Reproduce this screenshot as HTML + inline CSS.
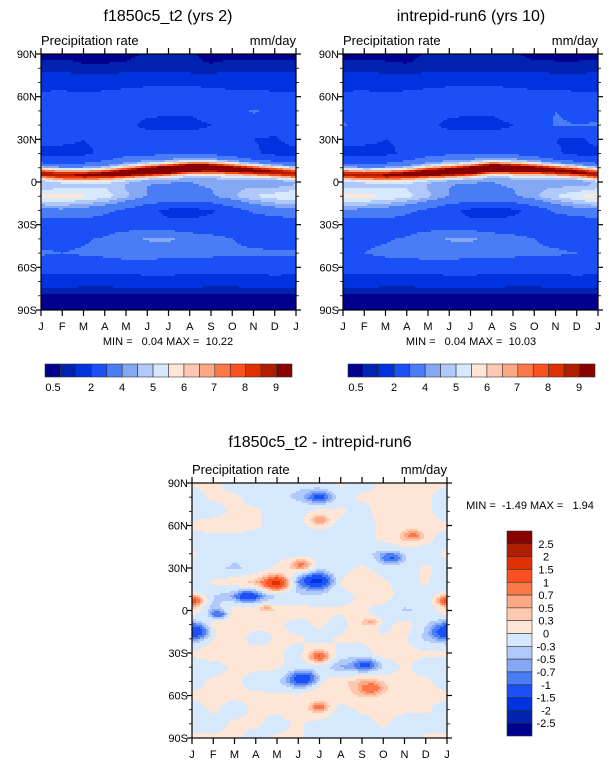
<!DOCTYPE html>
<html><head><meta charset="utf-8">
<style>
body{margin:0;background:#fff;}
svg{display:block;font-family:"Liberation Sans",Arial,sans-serif;}
text{white-space:pre;}
</style></head>
<body>
<svg id="fig" width="611" height="768" viewBox="0 0 611 768" xmlns="http://www.w3.org/2000/svg"></svg>
<script>
// ---------- data ----------
const months = ["J","F","M","A","M","J","J","A","S","O","N","D","J"];
const latTicks = ["90N","60N","30N","0","30S","60S","90S"];
const gridLats = [90,80,70,60,50,40,30,20,10,0,-10,-20,-30,-40,-50,-60,-70,-80,-90];
const absLevels = [0.5,1,2,3,4,4.5,5,5.5,6,6.5,7,7.5,8,8.5,9];
const absLabels = ["0.5","2","4","5","6","7","8","9"];
const diffLevels = [-2.5,-2,-1.5,-1,-0.7,-0.5,-0.3,0,0.3,0.5,0.7,1,1.5,2,2.5];
const diffLabels = ["2.5","2","1.5","1","0.7","0.5","0.3","0","-0.3","-0.5","-0.7","-1","-1.5","-2","-2.5"];
const palette = ["#00008e","#0022b0","#0033e0","#1a50f5","#4a7cf5","#85a8f5","#b0c8fa","#d6e8fc","#fee6d6","#fec8b0","#fca884","#fb7848","#fb5020","#e03000","#b01e00","#880000"];

const grid1 = [
[0.3,0.3,0.3,0.3,0.3,0.6,0.6,0.6,0.3,0.3,0.3,0.3,0.3],
[0.8,0.8,0.6,0.6,0.7,0.8,0.8,0.6,0.6,0.8,0.8,0.8,0.8],
[1.5,1.6,1.5,1.6,1.7,1.8,1.8,1.8,1.7,1.6,1.5,1.5,1.5],
[2.3,2.3,2.2,2.3,2.4,2.5,2.6,2.6,2.5,2.4,2.4,2.3,2.3],
[2.5,2.5,2.4,2.4,2.3,2.2,2.1,2.1,2.3,2.6,3.1,2.7,2.5],
[2.2,2.5,2.5,2.4,2.2,1.8,1.8,1.8,2.0,2.3,2.5,2.3,2.2],
[2.3,2.2,2.0,2.2,2.3,2.4,2.5,2.3,2.3,2.1,2.0,1.9,2.3],
[1.7,1.7,1.8,2.2,2.6,2.7,2.8,2.9,2.8,2.5,2.1,1.8,1.7],
[3.5,3.4,3.5,3.8,4.5,5.2,5.5,5.6,5.5,5.0,4.2,3.8,3.5],
[4.2,4.4,4.6,4.8,4.4,4.0,4.0,4.0,4.1,4.3,4.2,4.0,4.2],
[5.6,5.8,5.6,5.3,4.6,4.0,3.8,3.8,3.9,4.4,5.0,5.3,5.6],
[3.8,3.8,3.6,3.2,2.8,2.2,1.8,1.7,1.9,2.5,3.2,3.6,3.8],
[2.4,2.4,2.5,2.5,2.4,2.3,2.2,2.2,2.3,2.3,2.2,2.1,2.4],
[2.7,2.8,2.9,3.1,3.7,4.1,4.2,3.6,3.3,3.0,2.8,2.7,2.7],
[3.1,3.0,3.1,3.2,3.4,3.4,3.3,3.3,3.2,3.1,3.1,3.1,3.1],
[2.5,2.5,2.5,2.5,2.5,2.5,2.5,2.5,2.5,2.5,2.5,2.5,2.5],
[1.5,1.5,1.4,1.4,1.5,1.6,1.6,1.5,1.4,1.4,1.5,1.6,1.5],
[0.3,0.3,0.3,0.3,0.3,0.3,0.3,0.3,0.3,0.3,0.3,0.3,0.3],
[0.2,0.2,0.2,0.2,0.2,0.2,0.2,0.2,0.2,0.2,0.2,0.2,0.2]];
const itczLat1 = [6,5,5,5.5,6.5,7.5,8.5,10,10,9,8,7,6];
const itczAmp1 = [5,5,5,5.2,5.6,6,6,5.6,5.2,5,5.2,5.2,5];

const grid2 = [
[0.3,0.3,0.3,0.3,0.6,0.6,0.6,0.6,0.6,0.3,0.3,0.3,0.3],
[0.8,0.8,0.7,0.6,0.7,0.8,0.8,0.7,0.8,0.8,0.7,0.7,0.8],
[1.5,1.6,1.5,1.6,1.7,1.8,1.8,1.8,1.7,1.6,1.5,1.5,1.5],
[2.3,2.3,2.2,2.3,2.4,2.5,2.6,2.6,2.5,2.4,2.4,2.3,2.3],
[2.6,2.5,2.4,2.4,2.3,2.2,2.1,2.1,2.3,2.6,3.0,2.8,2.6],
[3.1,2.6,2.5,2.4,2.2,1.8,1.8,1.8,2.0,2.3,3.1,3.0,3.1],
[2.3,2.2,2.0,2.1,2.3,2.4,2.5,2.3,2.3,2.1,2.0,1.8,2.3],
[1.7,1.7,1.8,2.2,2.6,2.8,2.9,3.0,2.8,2.5,2.1,1.8,1.7],
[3.5,3.4,3.5,3.8,4.5,5.2,5.5,5.6,5.5,5.0,4.2,3.8,3.5],
[4.2,4.4,4.6,4.8,4.4,4.0,4.0,4.0,4.1,4.3,4.2,4.0,4.2],
[5.9,5.7,5.5,5.2,4.6,4.0,3.8,3.8,3.9,4.4,5.0,5.5,5.9],
[3.8,3.8,3.6,3.2,2.8,2.2,1.8,1.7,1.8,2.3,3.2,3.6,3.8],
[2.4,2.4,2.5,2.5,2.4,2.3,2.2,2.2,2.3,2.3,2.2,2.1,2.4],
[2.7,2.8,2.9,3.1,3.7,4.1,4.2,3.6,3.3,3.0,2.8,2.7,2.7],
[3.0,3.0,3.2,3.3,3.4,3.4,3.3,3.3,3.2,3.1,3.1,3.0,3.0],
[2.5,2.5,2.5,2.5,2.5,2.5,2.5,2.5,2.5,2.5,2.5,2.5,2.5],
[1.5,1.5,1.4,1.4,1.5,1.6,1.6,1.5,1.4,1.4,1.5,1.6,1.5],
[0.3,0.3,0.3,0.3,0.3,0.3,0.3,0.3,0.3,0.3,0.3,0.3,0.3],
[0.2,0.2,0.2,0.2,0.2,0.2,0.2,0.2,0.2,0.2,0.2,0.2,0.2]];
const itczLat2 = [5.5,5,5,5.5,6.5,7,8,10,9.5,9,8,7,5.5];
const itczAmp2 = [5,4.8,5,5.2,5.8,5.6,5.8,5.6,5.2,5,5.2,5.4,5];

const gridD = [
[0.1,0.1,-0.1,-0.1,-0.2,-0.2,-0.1,0.1,-0.1,0.1,0.1,0.1,0.1],
[-0.1,0.1,0.1,-0.1,-0.2,-0.3,-0.4,-0.1,0.1,0.1,0.1,0.1,-0.1],
[-0.1,-0.1,0.1,0.1,-0.1,-0.1,0.1,0.1,-0.1,0.2,0.3,0.1,-0.1],
[0.1,0.2,0.2,0.1,-0.1,-0.1,0.1,-0.1,-0.1,0.1,0.1,0.1,0.1],
[-0.1,-0.1,-0.1,-0.1,-0.1,-0.2,-0.1,-0.1,-0.1,0.1,0.2,0.1,-0.1],
[0.1,-0.1,-0.2,-0.2,-0.1,-0.2,-0.1,-0.1,-0.2,-0.3,-0.1,-0.1,0.1],
[-0.1,-0.2,-0.3,-0.2,0.1,0.3,-0.2,-0.1,0.1,-0.1,-0.1,0.1,-0.1],
[-0.2,0.1,0.2,0.4,0.6,-0.6,-0.5,0.1,0.3,0.1,-0.1,0.1,-0.2],
[0.1,-0.3,-0.4,-0.6,-0.3,-0.2,-0.2,-0.1,0.1,0.2,-0.1,-0.2,0.1],
[0.3,-0.4,0.2,0.3,0.3,0.2,0.1,0.1,0.1,-0.1,-0.3,-0.2,0.3],
[-0.5,0.2,0.3,0.2,0.1,-0.1,0.1,-0.1,0.3,-0.1,0.2,-0.2,-0.5],
[-0.4,0.1,0.3,-0.2,0.1,0.1,-0.1,0.1,0.1,0.1,0.1,-0.3,-0.4],
[0.1,0.2,0.1,0.3,0.1,-0.1,0.4,-0.1,-0.1,0.2,0.1,0.1,0.1],
[-0.1,-0.1,0.1,0.1,0.1,-0.1,-0.1,-0.5,-0.5,-0.2,0.1,-0.1,-0.1],
[-0.1,0.1,0.1,-0.1,-0.2,-0.5,0.1,0.3,0.4,0.2,0.1,0.1,-0.1],
[0.1,0.1,0.1,0.1,0.1,0.1,0.2,0.2,0.3,0.1,0.1,0.1,0.1],
[-0.1,0.1,-0.1,0.1,0.1,0.2,0.4,-0.1,0.1,0.1,0.1,0.1,-0.1],
[-0.1,-0.1,0.1,0.1,-0.1,0.1,-0.1,-0.1,-0.1,0.1,-0.1,-0.1,-0.1],
[0.1,0.1,0.1,-0.1,0.1,0.1,-0.1,-0.1,-0.1,-0.1,-0.1,0.1,0.1]];
const blobMonth = [0.1,12,0.2,12,4.0,5.9,6.0,6.0,10.4,9.4,5.2,6.0,8.5,5.3,2.6,1.3,8.5,6.0,8.2,3.5];
const blobLat   = [7,7,-15,-15,19,21,80,64,53,37,33,-33,-55,-48,10,-3,-8,-68,-38,2];
const blobAmp   = [1.0,1.0,-1.0,-1.0,1.2,-1.2,-0.8,0.6,0.7,-0.8,0.7,0.8,0.7,-1.0,-0.9,-0.8,0.5,0.6,-0.7,0.5];
const blobRad   = [4,4,5,5,5,5,4,4,4,4,4,4,5,5,4,3,3,3,4,2];

// ---------- helpers ----------
const NS="http://www.w3.org/2000/svg";
const svg=document.getElementById('fig');
function mk(tag,attrs,parent){const e=document.createElementNS(NS,tag);for(const k in attrs)e.setAttribute(k,attrs[k]);(parent||svg).appendChild(e);return e;}
function txt(s,x,y,size,anchor,parent){const t=mk('text',{x:x,y:y,'font-size':size,'text-anchor':anchor||'start',fill:'#000'},parent);t.textContent=s;return t;}
function bilin(grid,m,lat){
  const r=(90-lat)/10, r0=Math.max(0,Math.min(17,Math.floor(r))), fr=r-r0;
  const c0=Math.max(0,Math.min(11,Math.floor(m))), fc=m-c0;
  const a=grid[r0][c0]*(1-fc)+grid[r0][c0+1]*fc;
  const b=grid[r0+1][c0]*(1-fc)+grid[r0+1][c0+1]*fc;
  return a*(1-fr)+b*fr;
}
function classify(v,levels){let i=0;while(i<levels.length&&v>=levels[i])i++;return i;}

function drawPanel(g,x0,y0,w,h,field,levels,name){
  const step=2;
  const xs=m=>x0+m/12*w, ys=lat=>y0+(90-lat)/180*h;
  const grp=mk('g',{},g);
  
  
  function emit(py,x1,x2,c){
    const r=mk('rect',{x:x0+x1,y:y0+py,width:x2-x1,height:Math.min(step,h-py)+0.5,fill:palette[c]},grp);
    
    
  }
  for(let py=0;py<h;py+=step){
    const lat=90-(py+step/2)/h*180;
    let runStart=0,runC=-1;
    for(let px=0;px<w;px+=step){
      const m=Math.min(w,px+step/2)/w*12;
      const c=classify(field(m,lat),levels);
      if(c!==runC){
        if(runC>=0) emit(py,runStart,px+0.5,runC);
        runStart=px;runC=c;
      }
    }
    if(runC>=0) emit(py,runStart,w,runC);
  }
  const fr=mk('rect',{x:x0,y:y0,width:w,height:h,fill:'none',stroke:'#000','stroke-width':1.2},g);
  
  months.forEach((mo,i)=>{
    const x=xs(i);
    mk('line',{x1:x,y1:y0,x2:x,y2:y0-6,stroke:'#000','stroke-width':1.2},g);
    mk('line',{x1:x,y1:y0+h,x2:x,y2:y0+h+6,stroke:'#000','stroke-width':1.2},g);
    const t=txt(mo,x,y0+h+20,11,'middle',g);
    
  });
  for(let lat=-90;lat<=90;lat+=10){
    const y=ys(lat), major=lat%30===0, L=major?5:3;
    mk('line',{x1:x0,y1:y,x2:x0-L,y2:y,stroke:'#000','stroke-width':major?1.2:0.8},g);
    mk('line',{x1:x0+w,y1:y,x2:x0+w+L,y2:y,stroke:'#000','stroke-width':major?1.2:0.8},g);
  }
  latTicks.forEach((lb,i)=>{
    const t=txt(lb,x0-4,ys(90-i*30)+4,11,'end',g);
    
  });
  const a=txt('Precipitation rate',x0,y0-9,13,'start',g);
  
  const b=txt('mm/day',x0+w,y0-9,13,'end',g);
  
}
function f1(m,lat){const i=Math.min(11,Math.floor(m)),f=m-i;const c=itczLat1[i]*(1-f)+itczLat1[i+1]*f,a=itczAmp1[i]*(1-f)+itczAmp1[i+1]*f;return bilin(grid1,m,lat)+a*Math.exp(-Math.pow((lat-c)/3.8,2));}
function f2(m,lat){const i=Math.min(11,Math.floor(m)),f=m-i;const c=itczLat2[i]*(1-f)+itczLat2[i+1]*f,a=itczAmp2[i]*(1-f)+itczAmp2[i+1]*f;return bilin(grid2,m,lat)+a*Math.exp(-Math.pow((lat-c)/3.8,2));}
function fd(m,lat){let v=bilin(gridD,m,lat)-0.04;for(let k=0;k<blobMonth.length;k++){const dx=(m-blobMonth[k])*15,dy=lat-blobLat[k];v+=blobAmp[k]*Math.exp(-(dx*dx*0.25+dy*dy)/(blobRad[k]*blobRad[k]));}return v;}

function hColorbar(g,x0,y0,w,h,labels,labelX){
  const bw=w/16;
  for(let i=0;i<16;i++){const r=mk('rect',{x:x0+i*bw,y:y0,width:bw,height:h,fill:palette[i],stroke:'#333','stroke-width':0.6},g);}
  labels.forEach((l,i)=>{const t=txt(l,labelX[i],y0+h+14,11,'middle',g);});
}

// ---------- panel 1 ----------
const p1=mk('g',{});
const t1=txt('f1850c5_t2 (yrs 2)',168,21,16,'middle',p1);
drawPanel(p1,41,54,255,256,f1,absLevels,'panel1');
const mm1=txt('MIN =   0.04 MAX =  10.22',168,345,11,'middle',p1);
hColorbar(p1,45,364,247,13,absLabels,[53,91,122,153,184,214,245,276]);

// ---------- panel 2 ----------
const p2=mk('g',{});
const t2=txt('intrepid-run6 (yrs 10)',471,21,16,'middle',p2);
drawPanel(p2,343,54,255,256,f2,absLevels,'panel2');
const mm2=txt('MIN =   0.04 MAX =  10.03',471,345,11,'middle',p2);
hColorbar(p2,348,364,247,13,absLabels,[356,394,425,456,487,517,548,579]);

// ---------- diff panel ----------
const p3=mk('g',{});
const t3=txt('f1850c5_t2 - intrepid-run6',320,447,16,'middle',p3);
drawPanel(p3,192,483,255,255,fd,diffLevels,'panel3');
const mm3=txt('MIN =  -1.49 MAX =   1.94',530,509,11,'middle',p3);
const cbx=507,cby=531,cbw=25,cbh=205,bh=cbh/16;
for(let i=0;i<16;i++){const r=mk('rect',{x:cbx,y:cby+i*bh,width:cbw,height:bh,fill:palette[15-i],stroke:'#333','stroke-width':0.6},p3);}
diffLabels.forEach((l,i)=>{const t=txt(l,546,cby+(i+1)*bh+4,11,'middle',p3);});
</script>
</body></html>
